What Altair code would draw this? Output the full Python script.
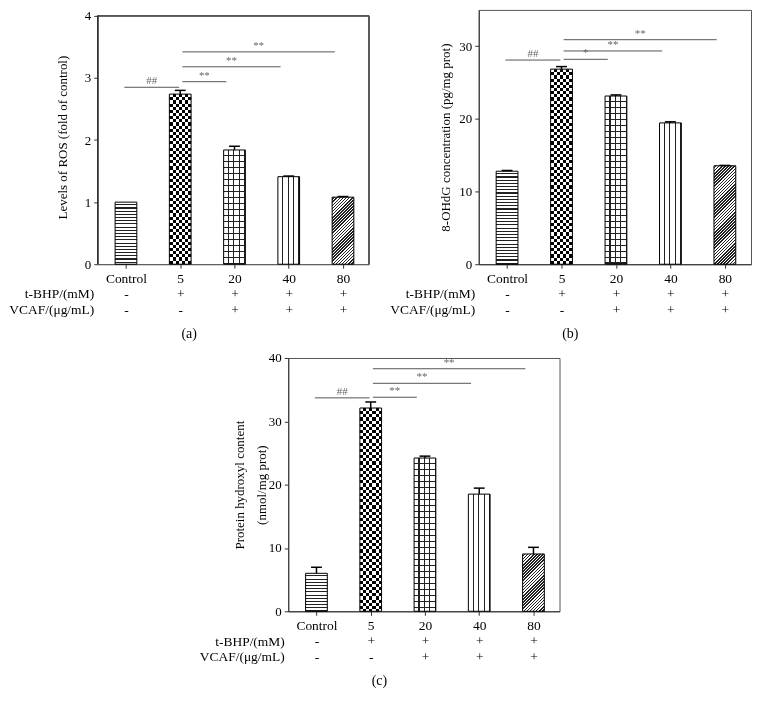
import json
import math
import altair as alt
import pandas as pd

# ---------------- data ----------------
categories = ["Control", "5", "20", "40", "80"]
tbhp_signs = ["-", "+", "+", "+", "+"]
vcaf_signs = ["-", "-", "+", "+", "+"]

ros_mean = [1.00, 2.74, 1.84, 1.41, 1.08]
ros_err = [0.00, 0.06, 0.06, 0.01, 0.01]
ros_sig_a = [0, 1, 1, 1]
ros_sig_b = [1, 2, 3, 4]
ros_sig_level = [2.85, 2.94, 3.18, 3.42]
ros_sig_text = ["##", "**", "**", "**"]

ohdg_mean = [12.8, 26.85, 23.15, 19.45, 13.55]
ohdg_err = [0.10, 0.35, 0.15, 0.15, 0.05]
ohdg_sig_a = [0, 1, 1, 1]
ohdg_sig_b = [1, 2, 3, 4]
ohdg_sig_level = [28.1, 28.2, 29.35, 30.9]
ohdg_sig_text = ["##", "*", "**", "**"]

carb_mean = [6.0, 32.1, 24.2, 18.5, 9.05]
carb_err = [0.95, 0.95, 0.30, 0.95, 1.05]
carb_sig_a = [0, 1, 1, 1]
carb_sig_b = [1, 2, 3, 4]
carb_sig_level = [33.7, 33.8, 36.0, 38.3]
carb_sig_text = ["##", "**", "**", "**"]

# ---------------- style ----------------
FONT = "Liberation Serif"
XMIN, XMAX = -0.52, 4.48
BAR_W = 0.4
LINE_H = 15.3
LABEL_TOP = 7.5
CLEAR = "rgba(255,255,255,0)"
FRAME = "#555"


def stops(length_px, period_px, ink_frac, ink, paper):
    p = period_px / max(length_px, 1)
    out = []
    k = 0
    while k * p < 1:
        a = k * p
        b = min((k + 1 - ink_frac) * p, 1.0)
        c = min((k + 1) * p, 1.0)
        out += [(a, paper), (b, paper), (b, ink), (c, ink)]
        k += 1
    return [alt.GradientStop(offset=round(o, 5), color=col) for o, col in out]


def grad_h_lines(h_px, period, frac, ink, paper):
    return alt.LinearGradient(gradient="linear", x1=0, y1=0, x2=0, y2=1,
                              stops=stops(h_px, period, frac, ink, paper))


def grad_v_lines(w_px, period, frac, ink, paper):
    return alt.LinearGradient(gradient="linear", x1=0, y1=0, x2=1, y2=0,
                              stops=stops(w_px, period, frac, ink, paper))


def grad_diag(w_px, h_px, period, frac, ink, paper):
    # 45-degree "////" hatch: gradient vector chosen so that t=1 hits the far corner
    r = h_px / w_px
    s = (1 + r) / (1 + r * r)
    length = (w_px + h_px) / math.sqrt(2)
    return alt.LinearGradient(gradient="linear", x1=0, y1=0,
                              x2=round(s, 5), y2=round(s * r, 5),
                              stops=stops(length, period, frac, ink, paper))


def panel(means, errs, sa, sb, slev, stext, ymax, yticks, ytitle, ypad, ylh,
          caption, W, H, frame_top=None):
    df = pd.DataFrame({"idx": list(range(len(categories))), "value": means, "err": errs})
    bar_w_px = BAR_W * W / (XMAX - XMIN)
    hpx = [m / ymax * H for m in means]

    rows = [[c, t, v] for c, t, v in zip(categories, tbhp_signs, vcaf_signs)]
    label_expr = json.dumps(rows) + "[datum.value]"

    xscale = alt.Scale(domain=[XMIN, XMAX], nice=False, zero=False)
    yscale = alt.Scale(domain=[0, ymax], nice=False, zero=True)
    xaxis = alt.Axis(values=list(range(len(categories))), labelExpr=label_expr,
                     labelLineHeight=LINE_H, labelBaseline="top", labelFontSize=13.5,
                     labelPadding=LABEL_TOP - 4, tickSize=4, labelOverlap=False,
                     labelBound=False, labelFlush=False, grid=False,
                     title=["t-BHP/(mM)", "VCAF/(μg/mL)"], titleAngle=0,
                     titleAlign="right", titleBaseline="top", titleX=-4,
                     titleY=LABEL_TOP + LINE_H, titleLineHeight=LINE_H,
                     titleFontSize=13.5, titleFontWeight="normal")
    yaxis = alt.Axis(values=yticks, format="d", tickSize=4, labelPadding=3,
                     labelFontSize=13, grid=False, title=ytitle,
                     titleFontSize=13, titleFontWeight="normal",
                     titlePadding=ypad, titleLineHeight=ylh,
                     domain=frame_top is None)

    base = alt.Chart().transform_calculate(
        lo=f"datum.idx - {BAR_W / 2}", hi=f"datum.idx + {BAR_W / 2}", base="0")

    def bar(i, **mk):
        return base.transform_filter(alt.datum.idx == i).mark_bar(**mk).encode(
            x=alt.X("lo:Q", scale=xscale, axis=xaxis),
            x2=alt.X2("hi"),
            y=alt.Y("value:Q", scale=yscale, axis=yaxis),
            y2=alt.Y2("base"),
        )

    layers = []
    if frame_top is not None:
        # box drawn up to the top tick, the scale running a little above it
        fr = alt.Chart()
        layers.append(fr.mark_rule(color=FRAME, strokeWidth=1).encode(
            x=alt.X(datum=XMIN, type="quantitative", scale=xscale, axis=xaxis),
            x2=alt.X2(datum=XMAX),
            y=alt.Y(datum=frame_top, type="quantitative", scale=yscale, axis=yaxis)))
        layers.append(fr.mark_rule(color=FRAME, strokeWidth=1).encode(
            x=alt.X(datum=XMAX, type="quantitative", scale=xscale, axis=xaxis),
            y=alt.Y(datum=0, type="quantitative", scale=yscale, axis=yaxis),
            y2=alt.Y2(datum=frame_top)))
        layers.append(fr.mark_rule(color="#333", strokeWidth=1).encode(
            x=alt.X(datum=XMIN, type="quantitative", scale=xscale, axis=xaxis),
            y=alt.Y(datum=0, type="quantitative", scale=yscale, axis=yaxis),
            y2=alt.Y2(datum=frame_top)))

    layers += [
        # control: horizontal lines
        bar(0, fill=grad_h_lines(hpx[0], 3.2, 0.35, "#222", "white"),
            stroke="black", strokeWidth=1),
        # 5: checkerboard (xor of two stripe sets)
        bar(1, fill=grad_v_lines(bar_w_px, 6.3, 0.5, "black", "white")),
        bar(1, fill=grad_h_lines(hpx[1], 6.3, 0.5, "white", CLEAR), blend="difference"),
        bar(1, fill="transparent", stroke="black", strokeWidth=1),
        # 20: grid
        bar(2, fill=grad_v_lines(bar_w_px, bar_w_px / 4, 0.2, "#222", "white")),
        bar(2, fill=grad_h_lines(hpx[2], 6.0, 0.18, "#222", CLEAR),
            stroke="black", strokeWidth=1),
        # 40: vertical lines
        bar(3, fill=grad_v_lines(bar_w_px, bar_w_px / 4, 0.2, "#222", "white"),
            stroke="black", strokeWidth=1),
        # 80: diagonal hatch
        bar(4, fill=grad_diag(bar_w_px, hpx[4], 2.2, 0.5, "#222", "white"),
            stroke="black", strokeWidth=1),
    ]

    err_base = alt.Chart().transform_filter("datum.err > 0").transform_calculate(
        top="datum.value + datum.err", cl="datum.idx - 0.1", cr="datum.idx + 0.1")
    layers.append(err_base.mark_rule(color="black", strokeWidth=1.5).encode(
        x=alt.X("idx:Q", scale=xscale, axis=xaxis),
        y=alt.Y("value:Q", scale=yscale, axis=yaxis),
        y2=alt.Y2("top")))
    layers.append(err_base.mark_rule(color="black", strokeWidth=1.5).encode(
        x=alt.X("cl:Q", scale=xscale, axis=xaxis),
        x2=alt.X2("cr"),
        y=alt.Y("top:Q", scale=yscale, axis=yaxis)))

    sig_df = pd.DataFrame({"ga": sa, "gb": sb, "level": slev, "label": stext})
    sig_base = alt.Chart(sig_df).transform_calculate(
        xa="datum.ga + (datum.ga == 0 ? -0.03 : 0.04)",
        xb="datum.gb - (datum.ga == 0 ? 0.02 : 0.15)",
    ).transform_calculate(xm="(datum.xa + datum.xb) / 2")
    layers.append(sig_base.mark_rule(color="#555", strokeWidth=1).encode(
        x=alt.X("xa:Q", scale=xscale, axis=xaxis),
        x2=alt.X2("xb"),
        y=alt.Y("level:Q", scale=yscale, axis=yaxis)))
    layers.append(sig_base.mark_text(font=FONT, fontSize=11, color="#666",
                                     baseline="middle", dy=-6).encode(
        x=alt.X("xm:Q", scale=xscale, axis=xaxis),
        y=alt.Y("level:Q", scale=yscale, axis=yaxis),
        text="label:N"))

    props = dict(width=W, height=H,
                 title=alt.TitleParams(caption, orient="bottom", fontSize=14,
                                       fontWeight="normal", font=FONT, offset=11,
                                       anchor="middle", frame="bounds", color="black"))
    if frame_top is not None:
        props["view"] = alt.ViewBackground(stroke="transparent")
    return alt.layer(*layers, data=df).properties(**props)


pa = panel(ros_mean, ros_err, ros_sig_a, ros_sig_b, ros_sig_level, ros_sig_text,
           4.096, [0, 1, 2, 3, 4], "Levels of ROS (fold of control)", 15, 15,
           "(a)", 272, 255, frame_top=4)
pb = panel(ohdg_mean, ohdg_err, ohdg_sig_a, ohdg_sig_b, ohdg_sig_level, ohdg_sig_text,
           35, [0, 10, 20, 30], "8-OHdG concentration (pg/mg prot)", 6, 15,
           "(b)", 273, 255)
pc = panel(carb_mean, carb_err, carb_sig_a, carb_sig_b, carb_sig_level, carb_sig_text,
           40, [0, 10, 20, 30, 40], ["Protein hydroxyl content", "(nmol/mg prot)"], 0, 22,
           "(c)", 272, 254)

spacer = alt.Chart(pd.DataFrame({"z": [0]})).mark_point(opacity=0).properties(
    width=100, height=10, view=alt.ViewBackground(stroke="transparent"))

chart = alt.vconcat(
    alt.hconcat(pa, pb, spacing=19),
    alt.hconcat(spacer, pc, spacing=0),
    spacing=9,
).properties(padding=0).configure_view(
    stroke=FRAME, strokeWidth=1
).configure_axis(
    labelFont=FONT, titleFont=FONT, labelColor="black", titleColor="black",
    domainColor="#333", tickColor="#333", domainWidth=1, tickWidth=1
).configure_text(font=FONT)

chart.save("out.html", embed_options={"renderer": "svg", "actions": False})
